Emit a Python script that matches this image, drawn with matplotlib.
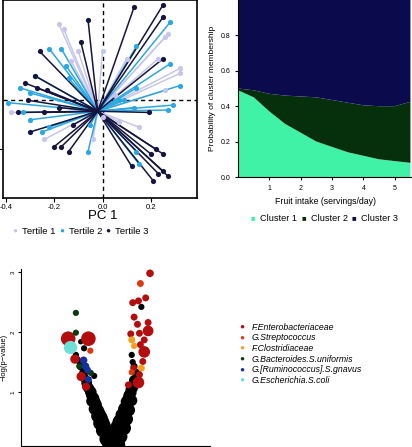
import matplotlib.pyplot as plt
import numpy as np

plt.rcParams['font.family'] = ['Liberation Sans', 'DejaVu Sans']

# ---- panel A: PCA biplot, vectors from a common origin ----
origin = (-0.02, -0.045)
t1_x = [-0.18, -0.16, 0.27, 0.26, -0.00, -0.13, 0.32, 0.32, 0.23, 0.10, 0.26, -0.38, -0.24, 0.15, 0.07, -0.04, -0.00, -0.10, 0.05]
t1_y = [0.31, 0.29, 0.27, 0.26, 0.20, 0.16, 0.13, 0.11, 0.17, 0.17, 0.04, -0.05, -0.16, -0.11, -0.09, -0.16, -0.07, 0.20, 0.02]
t2_x = [0.28, -0.22, -0.17, -0.15, -0.28, -0.14, 0.14, 0.28, 0.32, -0.34, -0.30, -0.39, -0.33, -0.30, -0.22, -0.25, -0.05, -0.06, 0.15, 0.27, 0.29, 0.13, 0.07, 0.09, 0.14, 0.14]
t2_y = [0.32, 0.21, 0.21, 0.14, 0.10, 0.09, 0.22, 0.15, 0.06, 0.05, 0.03, -0.01, -0.05, -0.08, -0.11, -0.13, -0.10, -0.21, -0.26, -0.04, -0.02, -0.03, 0.00, 0.00, 0.05, -0.21]
t3_x = [0.13, 0.25, 0.25, -0.06, -0.09, -0.26, 0.25, -0.32, -0.28, -0.27, -0.23, -0.31, -0.35, -0.24, -0.18, 0.19, -0.30, -0.12, -0.20, -0.17, -0.14, 0.22, 0.25, 0.20, 0.12, 0.23, 0.25, 0.27, 0.21]
t3_y = [0.38, 0.39, 0.34, 0.33, 0.24, 0.20, 0.17, 0.07, 0.10, 0.05, 0.04, 0.00, -0.05, -0.05, -0.03, -0.05, -0.13, -0.10, -0.19, -0.19, -0.21, -0.20, -0.22, -0.22, -0.27, -0.30, -0.29, -0.31, -0.33]
tertile_labels = ['Tertile 1', 'Tertile 2', 'Tertile 3']
tertile_colors = ['#c6c6ea', '#2aa8e2', '#15143f']

# ---- panel B: stacked probabilities ----
fruit = [0, 0.5, 1, 1.5, 2, 2.5, 3, 3.5, 4, 4.5, 5, 5.5]
cluster1 = [0.49, 0.45, 0.37, 0.30, 0.25, 0.20, 0.17, 0.14, 0.12, 0.10, 0.09, 0.08]
cluster2 = [0.01, 0.04, 0.10, 0.16, 0.205, 0.25, 0.265, 0.28, 0.285, 0.30, 0.31, 0.345]
cluster3 = [0.50, 0.51, 0.53, 0.54, 0.545, 0.55, 0.565, 0.58, 0.595, 0.60, 0.60, 0.575]
cluster_labels = ['Cluster 1', 'Cluster 2', 'Cluster 3']
cluster_colors = ['#3ff2a6', '#06300c', '#0a0a4c']

# ---- panel C: volcano plot ----
bg_x = [0.00, -0.07, -0.14, -0.19, -0.24, -0.30, -0.35, -0.40, -0.45, -0.50, -0.54, -0.58, -0.60, -0.65, -0.67, -0.73, -0.76, -0.59, -0.66, -0.38,
        0.05, 0.09, 0.13, 0.18, 0.22, 0.25, 0.30, 0.34, 0.38, 0.42, 0.45, 0.49, 0.51, 0.45, 0.40, 0.60, 0.42,
        -0.02, -0.10, -0.17, -0.22, -0.27, -0.33, -0.38, 0.02, 0.06, 0.11, 0.16, 0.20, 0.25, 0.30, 0.10, 0.14,
        -0.44, -0.48, -0.52, 0.34, 0.38, 0.44,
        -0.12, -0.20, -0.26, -0.31, -0.37, -0.43, 0.16, 0.24, 0.29, 0.34, 0.40, -0.06, 0.07]
bg_y = [0.13, 0.24, 0.35, 0.46, 0.57, 0.68, 0.79, 0.90, 1.00, 1.07, 1.15, 1.23, 1.32, 1.42, 1.48, 1.54, 1.62, 1.73, 1.84, 1.27,
        0.13, 0.24, 0.35, 0.46, 0.57, 0.68, 0.79, 0.90, 0.99, 1.07, 1.15, 1.23, 1.32, 1.43, 1.62, 2.42, 1.50,
        0.20, 0.30, 0.40, 0.52, 0.62, 0.72, 0.84, 0.20, 0.30, 0.42, 0.52, 0.62, 0.72, 0.84, 0.12, 0.50,
        0.95, 1.05, 1.15, 0.95, 1.05, 1.20,
        0.22, 0.36, 0.48, 0.60, 0.72, 0.85, 0.26, 0.40, 0.55, 0.70, 0.86, 0.16, 0.18]
bg_size = [130, 120, 110, 100, 95, 85, 80, 75, 70, 60, 55, 45, 40, 30, 25, 25, 20, 20, 15, 20,
           130, 120, 110, 100, 95, 85, 80, 75, 70, 60, 55, 45, 35, 25, 20, 20, 20,
           130, 120, 110, 100, 90, 85, 80, 130, 120, 110, 100, 90, 85, 80, 130, 95,
           60, 55, 45, 60, 55, 45,
           110, 100, 95, 85, 75, 65, 110, 100, 90, 80, 65, 130, 130]

taxa = ['F.Enterobacteriaceae', 'G.Streptococcus', 'F.Clostridiaceae',
        'G.Bacteroides.S.uniformis', 'G.[Ruminococcus].S.gnavus', 'G.Escherichia.S.coli']
taxa_colors = ['#b30d0d', '#dd3a12', '#f2a01e', '#0b3d0f', '#12309e', '#6fe0d6']
taxa_x = [
    [-0.92, -0.50, -0.78, -0.65, -0.55, 0.78, 0.42, 0.54, 0.69, 0.45, 0.52, 0.74, 0.74, 0.38, 0.56, 0.66, 0.58, 0.66, 0.63, 0.44, 0.56, 0.54, 0.33],
    [-0.46, 0.58, 0.40],
    [0.40, 0.45, 0.60],
    [-0.76, -0.76, -0.69, -0.45],
    [-0.60, -0.56, -0.52, -0.50],
    [-0.88],
]
taxa_y = [
    [1.89, 1.89, 1.55, 1.26, 1.09, 2.98, 2.49, 2.52, 2.57, 2.25, 2.13, 2.16, 2.02, 1.97, 1.98, 1.87, 1.79, 1.67, 1.51, 1.40, 1.29, 1.16, 1.12],
    [1.69, 2.81, 1.33],
    [1.87, 1.77, 1.40],
    [2.32, 1.99, 1.43, 1.32],
    [1.53, 1.43, 1.37, 1.21],
    [1.75],
]
taxa_size = [
    [110, 110, 45, 45, 35, 30, 25, 25, 25, 25, 25, 25, 60, 25, 25, 25, 25, 70, 25, 25, 25, 70, 25],
    [20, 25, 20],
    [25, 20, 25],
    [20, 20, 20, 20],
    [30, 30, 25, 25],
    [90],
]

fig = plt.figure(figsize=(4.12, 4.47), dpi=100)

# panel A
ax1 = fig.add_axes([0.008, 0.557, 0.47, 0.443])
for xs, ys, c in [(t1_x, t1_y, tertile_colors[0]), (t2_x, t2_y, tertile_colors[1]), (t3_x, t3_y, tertile_colors[2])]:
    for x, y in zip(xs, ys):
        ax1.plot([origin[0], x], [origin[1], y], color=c, lw=1.1, zorder=2)
    ax1.scatter(xs, ys, s=14, color=c, zorder=3, linewidths=0)
ax1.axvline(0, color='black', ls=(0, (3, 2.5)), lw=1, zorder=1)
ax1.axhline(0, color='black', ls=(0, (3, 2.5)), lw=1, zorder=1)
ax1.set_xlim(-0.41, 0.39)
ax1.set_ylim(-0.40, 0.41)
ax1.set_xticks([-0.4, -0.2, 0.0, 0.2])
ax1.set_xticklabels(['-0.4', '-0.2', '0.0', '0.2'], fontsize=5.5)
ax1.set_yticks([-0.2])
ax1.set_yticklabels([])
ax1.tick_params(length=3, width=0.8, pad=1.5)
for sp in ax1.spines.values():
    sp.set_linewidth(1.2)
fig.text(0.25, 0.517, 'PC 1', fontsize=9.5, ha='center', va='center')
for xpos, lab, c in zip([0.036, 0.150, 0.262], tertile_labels, tertile_colors):
    fig.text(xpos, 0.482, '\u25cf', color=c, fontsize=6, ha='center', va='center')
    fig.text(xpos + 0.017, 0.482, lab, fontsize=6.8, ha='left', va='center')

# panel B
ax2 = fig.add_axes([0.578, 0.604, 0.422, 0.396])
ax2.stackplot(fruit, cluster1, cluster2, cluster3, colors=cluster_colors, linewidth=0)
ax2.set_xlim(0, 5.55)
ax2.set_ylim(0, 1.0)
ax2.set_xticks([1, 2, 3, 4, 5])
ax2.set_yticks([0.0, 0.2, 0.4, 0.6, 0.8])
ax2.set_yticklabels(['0.0', '0.2', '0.4', '0.6', '0.8'])
ax2.tick_params(labelsize=5, length=2.5, width=0.8, pad=3)
ax2.spines['top'].set_visible(False)
ax2.spines['right'].set_visible(False)
ax2.set_xlabel('Fruit intake (servings/day)', fontsize=6.3, labelpad=4)
ax2.set_ylabel('Probability of cluster membership', fontsize=6, labelpad=3)
for xpos, lab, c in zip([0.614, 0.738, 0.859], cluster_labels, cluster_colors):
    fig.text(xpos, 0.512, '\u25a0', color=c, fontsize=5.5, ha='center', va='center')
    fig.text(xpos + 0.017, 0.512, lab, fontsize=6.6, ha='left', va='center')

# panel C
ax3 = fig.add_axes([0.051, 0.002, 0.458, 0.396])
ax3.scatter(bg_x, bg_y, s=bg_size, color='black', linewidths=0, zorder=2)
for xs, ys, ss, c in zip(taxa_x, taxa_y, taxa_size, taxa_colors):
    ax3.scatter(xs, ys, s=ss, color=c, linewidths=0, zorder=3)
ax3.set_xlim(-1.90, 2.02)
ax3.set_ylim(0.1, 3.05)
ax3.set_xticks([1])
ax3.set_xticklabels([])
ax3.set_yticks([1, 2, 3])
ax3.set_yticklabels(['1', '2', '3'], rotation=90, va='center', fontsize=4.5)
ax3.tick_params(length=2.5, width=0.8, pad=1.5)
ax3.spines['top'].set_visible(False)
ax3.spines['right'].set_visible(False)
ax3.set_ylabel('\u2212log(p\u2212value)', fontsize=5.5, labelpad=2)

for i, (lab, c) in enumerate(zip(taxa, taxa_colors)):
    yy = 0.268 - i * 0.0238
    fig.text(0.587, yy, '\u25cf', color=c, fontsize=6, ha='center', va='center')
    fig.text(0.611, yy, lab, fontsize=6.3, style='italic', ha='left', va='center')

fig.savefig('out.png', dpi=100)
